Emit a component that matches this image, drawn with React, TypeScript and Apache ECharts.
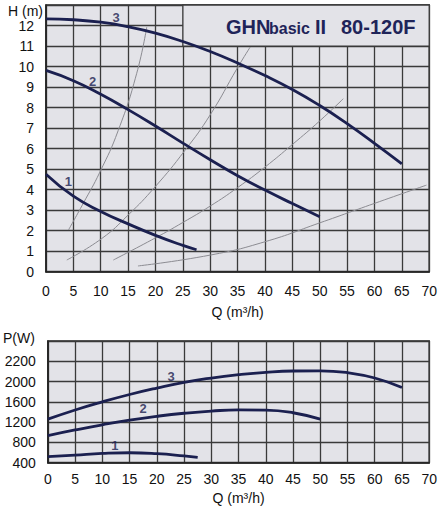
import React, { useEffect, useRef } from "react";
import * as echarts from "echarts";

// ---- Head curves H (m) vs Q (m³/h)
const head1Q = [0, 5, 10, 15, 20, 25, 27.5];
const head1H = [4.75, 3.68, 2.94, 2.33, 1.77, 1.28, 1.07];
const head2Q = [0, 5, 10, 15, 20, 25, 30, 35, 40, 45, 50];
const head2H = [9.81, 9.31, 8.65, 7.9, 7.1, 6.27, 5.46, 4.68, 3.98, 3.32, 2.68];
const head3Q = [0, 5, 10, 15, 20, 25, 30, 35, 40, 45, 50, 55, 60, 65];
const head3H = [12.32, 12.28, 12.16, 11.94, 11.63, 11.22, 10.73, 10.17, 9.56, 8.88, 8.1, 7.22, 6.26, 5.26];

// ---- Thin system curves
const sysAQ = [4.1, 6.8, 9.85, 13.2, 16.55, 18.4];
const sysAH = [2.03, 3.33, 4.86, 6.89, 9.65, 11.92];
const sysBQ = [3.8, 10.2, 15, 19.9, 25.4, 30, 35, 37.3];
const sysBH = [0.57, 1.62, 2.76, 4.13, 5.92, 7.65, 9.95, 10.95];
const sysCQ = [12.3, 20, 25, 30, 35, 40, 45, 50, 54.3];
const sysCH = [0.57, 1.65, 2.4, 3.2, 4.1, 5.1, 6.2, 7.35, 8.43];
const sysDQ = [16.8, 30, 40, 50, 60, 69.5];
const sysDH = [0.28, 0.81, 1.46, 2.38, 3.33, 4.22];

// ---- Power curves P (W) vs Q (m³/h), in the scale of the drawn grid
const pow1Q = [0, 5, 10, 15, 20, 25, 27.5];
const pow1P = [519, 550, 582, 596, 578, 535, 507];
const pow2Q = [0, 5, 10, 15, 20, 25, 30, 35, 40, 45, 50];
const pow2P = [934, 1045, 1148, 1240, 1315, 1375, 1418, 1442, 1438, 1385, 1258];
const pow3Q = [0, 5, 10, 15, 20, 25, 30, 35, 40, 45, 50, 55, 60, 65];
const pow3P = [1258, 1440, 1600, 1745, 1872, 1985, 2070, 2135, 2182, 2208, 2212, 2175, 2070, 1883];

// ---- Curve label anchor points
const curveNames = ["1", "2", "3"];
const headLabelPos = [[4.1, 4.38], [8.5, 9.29], [12.8, 12.38]];
const powLabelPos = [[12.3, 745], [17.5, 1460], [22.6, 2100]];

// ---- Tick labels
const powerTickLabels = ["400", "800", "1200", "1600", "2000", "2200"];
const headMaxLabel = 12;

const zip = (q: number[], v: number[]) => q.map((x, i) => [x, v[i]]);

const FONT = "'Liberation Sans', Arial, sans-serif";
const NAVY = "#1b2050";
const BG = "#e3e3e8";
const GRIDC = "#3a3a3a";

export default function App() {
  const ref = useRef<HTMLDivElement>(null);
  useEffect(() => {
    document.body.style.margin = "0";
    const chart = echarts.init(ref.current!, null, { renderer: "svg" });

    const axisLabel = { color: "#111", fontSize: 14, fontFamily: FONT, lineHeight: 14 };
    const splitLine = { show: true, lineStyle: { color: GRIDC, width: 1.3 } };
    const axisLine = { show: true, lineStyle: { color: "#222", width: 1.5 } };

    const heavy = (data: number[][], xi: number) => ({
      type: "line",
      xAxisIndex: xi,
      yAxisIndex: xi,
      data,
      smooth: 0.5,
      showSymbol: false,
      symbol: "none",
      lineStyle: { color: NAVY, width: 2.8 },
      z: 4,
      silent: true,
    });
    const thin = (data: number[][]) => ({
      type: "line",
      xAxisIndex: 0,
      yAxisIndex: 0,
      data,
      smooth: 0.5,
      showSymbol: false,
      symbol: "none",
      lineStyle: { color: "#8c8c92", width: 1 },
      z: 3,
      silent: true,
    });
    const labels = (pos: number[][], xi: number) => ({
      type: "scatter",
      xAxisIndex: xi,
      yAxisIndex: xi,
      symbolSize: 1,
      itemStyle: { color: "rgba(0,0,0,0)" },
      data: pos.map((p, i) => ({ value: p, name: curveNames[i] })),
      label: {
        show: true,
        position: "inside",
        formatter: (p: any) => p.name,
        color: NAVY,
        fontWeight: "bold",
        fontSize: 13,
        fontFamily: FONT,
      },
      z: 5,
      silent: true,
    });

    const option: any = {
      animation: false,
      backgroundColor: "#ffffff",
      grid: [
        {
          left: 46, top: 5, width: 383.6, height: 266.7,
          show: true, backgroundColor: BG, borderColor: "#222", borderWidth: 1.5,
        },
        {
          left: 46, top: 341, width: 383.6, height: 121.7,
          show: true, backgroundColor: BG, borderColor: "#222", borderWidth: 1.5,
        },
      ],
      xAxis: [0, 1].map((i) => ({
        type: "value",
        gridIndex: i,
        min: 0,
        max: 70,
        interval: 5,
        name: "Q (m³/h)",
        nameLocation: "middle",
        nameGap: i === 0 ? 33 : 28,
        nameTextStyle: { color: "#111", fontSize: 14, fontFamily: FONT },
        axisLabel: { ...axisLabel, margin: i === 0 ? 12 : 9 },
        axisTick: { show: false },
        axisLine,
        splitLine,
      })),
      yAxis: [
        {
          type: "value",
          gridIndex: 0,
          min: 0,
          max: 13,
          interval: 1,
          name: "H (m)",
          nameLocation: "end",
          nameGap: -6,
          nameTextStyle: {
            color: "#111", fontSize: 14, fontFamily: FONT, lineHeight: 14,
            align: "right", verticalAlign: "middle", padding: [0, 3, 0, 0],
          },
          axisLabel: {
            ...axisLabel,
            margin: 12,
            formatter: (v: number) => (v <= headMaxLabel ? String(v) : ""),
          },
          axisTick: { show: false },
          axisLine,
          splitLine,
        },
        {
          type: "value",
          gridIndex: 1,
          min: 400,
          max: 2800,
          interval: 400,
          name: "P(W)",
          nameLocation: "end",
          nameGap: 3,
          nameTextStyle: {
            color: "#111", fontSize: 14, fontFamily: FONT, lineHeight: 14,
            align: "right", verticalAlign: "middle", padding: [0, 13, 0, 0],
          },
          axisLabel: {
            ...axisLabel,
            margin: 12,
            formatter: (v: number) => powerTickLabels[Math.round((v - 400) / 400)] ?? "",
          },
          axisTick: { show: false },
          axisLine,
          splitLine,
        },
      ],
      graphic: [
        {
          type: "text", left: 226, top: 17, z: 10,
          style: { text: "GHN", fill: "#1f2459", font: `bold 20px ${FONT}` },
        },
        {
          type: "text", left: 269, top: 20.5, z: 10,
          style: { text: "basic", fill: "#1f2459", font: `bold 16px ${FONT}` },
        },
        {
          type: "text", left: 315, top: 17, z: 10,
          style: { text: "II", fill: "#1f2459", font: `bold 20px ${FONT}` },
        },
        {
          type: "text", left: 341, top: 17, z: 10,
          style: { text: "80-120F", fill: "#1f2459", font: `bold 20px ${FONT}` },
        },
      ],
      series: [
        {
          type: "line",
          xAxisIndex: 0,
          yAxisIndex: 0,
          data: [],
          z: 2,
          silent: true,
          markArea: {
            silent: true,
            itemStyle: { color: BG, opacity: 1, borderColor: GRIDC, borderWidth: 1.3 },
            data: [[{ coord: [25, 11] }, { coord: [70, 13] }]],
          },
        },
        thin(zip(sysAQ, sysAH)),
        thin(zip(sysBQ, sysBH)),
        thin(zip(sysCQ, sysCH)),
        thin(zip(sysDQ, sysDH)),
        heavy(zip(head1Q, head1H), 0),
        heavy(zip(head2Q, head2H), 0),
        heavy(zip(head3Q, head3H), 0),
        heavy(zip(pow1Q, pow1P), 1),
        heavy(zip(pow2Q, pow2P), 1),
        heavy(zip(pow3Q, pow3P), 1),
        labels(headLabelPos, 0),
        labels(powLabelPos, 1),
      ],
    };
    chart.setOption(option);
    return () => chart.dispose();
  }, []);
  return <div ref={ref} style={{ width: 440, height: 508 }} />;
}
